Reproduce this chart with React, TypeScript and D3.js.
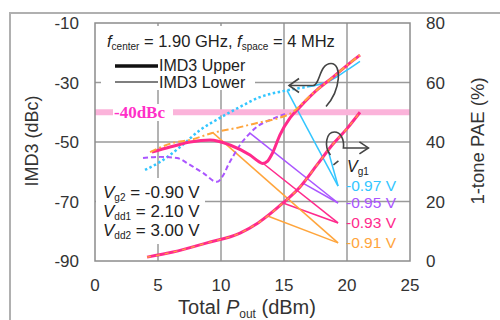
import React from "react";
import * as d3 from "d3";

// ---- data (x: Total Pout dBm) ----
const xTicks = [0, 5, 10, 15, 20, 25];
const yLeftTicks = [-10, -30, -50, -70, -90];
const yRightTicks = [80, 60, 40, 20, 0];

// IMD3 (dBc) curves
const imdPink: [number, number][] = [
  [4.52, -53.4], [5.95, -51.7], [7.54, -50.0], [9.13, -49.3], [10.71, -51.0],
  [12.3, -54.4], [13.0, -56.6], [13.3, -57.2], [13.7, -56.4], [14.1, -53.6], [14.68, -47.6],
  [15.48, -41.9], [16.27, -38.2], [17.62, -32.5], [18.89, -28.2], [20.24, -23.4], [21.03, -20.8],
];
const imdOrange: [number, number][] = [
  [4.37, -53.4], [6.19, -50.3], [7.54, -49.3], [9.29, -47.0], [11.51, -45.0],
  [12.86, -43.6], [14.29, -42.3], [15.71, -39.9], [17.06, -34.5], [18.89, -28.2],
  [20.24, -23.4], [21.03, -20.8],
];
const imdCyanDotted: [number, number][] = [
  [3.97, -59.4], [5.16, -56.7], [6.75, -51.7], [8.33, -46.0], [9.92, -41.9],
  [11.51, -38.2], [13.1, -34.9], [14.92, -32.9], [16.83, -31.5],
];
const imdCyanSolid: [number, number][] = [
  [16.83, -31.5], [18.65, -29.4], [19.84, -26.3], [21.03, -22.9],
];
const imdPurple: [number, number][] = [
  [3.81, -55.4], [5.16, -55.0], [6.51, -55.4], [7.54, -57.7], [8.57, -60.4],
  [9.68, -63.4], [10.2, -61.0], [10.6, -57.5], [11.0, -54.5], [11.51, -51.0], [12.3, -47.0],
  [12.94, -44.6], [13.89, -42.6], [15.08, -40.6],
];
// 1-tone PAE (%) curve
const pae: [number, number][] = [
  [4.13, 1.3], [6.19, 3.0], [8.89, 6.1], [11.51, 9.4], [12.94, 12.8],
  [14.92, 19.5], [16.27, 24.9], [17.62, 32.3], [18.89, 39.3], [20.0, 44.5], [21.03, 50.0],
];

const vg1Labels = ["-0.97 V", "-0.95 V", "-0.93 V", "-0.91 V"];
const vg1Colors = ["#33c6ff", "#aa55ff", "#ff2a8c", "#ffa53c"];
// leader lines: start x on IMD3 curve, start x on PAE curve, target value (left axis)
const leaderImdX = [15.24, 12.3, 13.33, 9.37];
const leaderPaeX = [18.5, 16.5, 14.92, 13.65];
const leaderTargetY = [-64.8, -70.5, -77.2, -83.9];
const leaderTargetX = 19.29;

const limitDbc = -40;

export default function App() {
  const x = d3.scaleLinear().domain([0, 25]).range([95, 410]);
  const yL = d3.scaleLinear().domain([-90, -10]).range([261, 23]);
  const yR = d3.scaleLinear().domain([0, 80]).range([261, 23]);

  const lineL = d3.line<[number, number]>().x(d => x(d[0])).y(d => yL(d[1])).curve(d3.curveMonotoneX);
  const lineR = d3.line<[number, number]>().x(d => x(d[0])).y(d => yR(d[1])).curve(d3.curveMonotoneX);

  const interp = (s: [number, number][], xv: number) => {
    for (let i = 0; i < s.length - 1; i++) {
      if (xv >= s[i][0] && xv <= s[i + 1][0]) {
        const t = (xv - s[i][0]) / (s[i + 1][0] - s[i][0]);
        return s[i][1] + t * (s[i + 1][1] - s[i][1]);
      }
    }
    return s[s.length - 1][1];
  };
  const imdSeries = [imdCyanDotted, imdPurple, imdPink, imdOrange];

  const font = "Liberation Sans, Arial, sans-serif";
  const gridColor = "#9a9a9a";
  const textColor = "#333";

  // arrow anchors
  const a1x = x(15.4), a1y = yL(-31.0);
  const a2x = x(21.7), a2y = yR(38.0);

  return (
    <svg width={500} height={320} style={{ position: "absolute", left: 0, top: 0 }} fontFamily={font}>
      <rect x={0} y={0} width={500} height={320} fill="#fff" />
      <rect x={10} y={13} width={510} height={330} fill="#fff" stroke="#b0b0b0" strokeWidth={2} />

      {/* grid */}
      {xTicks.slice(1, -1).map(t => (
        <line key={"gx" + t} x1={x(t)} x2={x(t)} y1={yL(-10)} y2={yL(-90)} stroke={gridColor} strokeWidth={1.5} />
      ))}
      {yLeftTicks.slice(1, -1).map(t => (
        <line key={"gy" + t} x1={x(0)} x2={x(25)} y1={yL(t)} y2={yL(t)} stroke={gridColor} strokeWidth={1.5} />
      ))}

      {/* -40 dBc band */}
      <line x1={x(0)} x2={x(25)} y1={yL(limitDbc)} y2={yL(limitDbc)} stroke="#fbb3da" strokeWidth={6} />

      {/* white boxes behind texts */}
      <rect x={101} y={26} width={180} height={26} fill="#fff" />
      <rect x={101} y={52} width={154} height={38} fill="#fff" />
      <rect x={96} y={178} width={109} height={66} fill="#fff" />
      <rect x={113} y={104} width={60} height={17} fill="#fff" />

      {/* frame */}
      <rect x={x(0)} y={yL(-10)} width={x(25) - x(0)} height={yL(-90) - yL(-10)} fill="none" stroke="#8c8c8c" strokeWidth={1.5} />

      {/* leader lines */}
      {vg1Labels.map((_, i) => {
        const tx = x(leaderTargetX), ty = yL(leaderTargetY[i]);
        const sx1 = x(leaderImdX[i]), sy1 = yL(interp(imdSeries[i], leaderImdX[i]));
        const sx2 = x(leaderPaeX[i]), sy2 = yR(interp(pae, leaderPaeX[i]));
        return (
          <g key={"ld" + i} stroke={vg1Colors[i]} strokeWidth={1.5} fill="none">
            <line x1={sx1} y1={sy1} x2={tx} y2={ty} />
            <line x1={sx2} y1={sy2} x2={tx} y2={ty} />
          </g>
        );
      })}

      {/* IMD3 curves */}
      <path d={lineL(imdCyanDotted) || ""} fill="none" stroke="#33c6ff" strokeWidth={2.5} strokeDasharray="2.5,2.5" />
      <path d={lineL(imdCyanSolid) || ""} fill="none" stroke="#33c6ff" strokeWidth={1.5} />
      <path d={lineL(imdPurple) || ""} fill="none" stroke="#aa55ff" strokeWidth={2} strokeDasharray="5,3" />
      <path d={lineL(imdPink) || ""} fill="none" stroke="#ff2a8c" strokeWidth={3} />
      <path d={lineL(imdOrange) || ""} fill="none" stroke="#ffa53c" strokeWidth={2} strokeDasharray="7,3,2,3" />

      {/* PAE curve */}
      <path d={lineR(pae) || ""} fill="none" stroke="#ff2a8c" strokeWidth={3} />
      <path d={lineR(pae) || ""} fill="none" stroke="#ffa53c" strokeWidth={1.2} strokeDasharray="4,5" />

      {/* curly arrows */}
      <g fill="none" stroke="#444" strokeWidth={1.6}>
        <path d={`M${a1x},${a1y} L${a1x + 24},${a1y} C${a1x + 31},${a1y} ${a1x + 30},${a1y - 22} ${a1x + 42},${a1y - 22} C${a1x + 53},${a1y - 22} ${a1x + 52},${a1y + 4} ${a1x + 37},${a1y + 21}`} />
        <path d={`M${a1x + 10},${a1y - 7} L${a1x},${a1y} L${a1x + 10},${a1y + 7}`} />
        <path d={`M${a2x},${a2y} L${a2x - 25},${a2y} C${a2x - 24},${a2y - 9} ${a2x - 28},${a2y - 16} ${a2x - 34},${a2y - 16} C${a2x - 42},${a2y - 16} ${a2x - 45},${a2y - 2} ${a2x - 38},${a2y + 7}`} />
        <path d={`M${a2x - 35},${a2y + 17} L${a2x - 30},${a2y + 13}`} />
        <path d={`M${a2x - 9},${a2y - 6} L${a2x},${a2y} L${a2x - 9},${a2y + 6}`} />
      </g>

      {/* title & legend */}
      <text x={107} y={47} fontSize={16.5} fill="#222">
        <tspan fontStyle="italic">f</tspan>
        <tspan fontSize={10} dy={3}>center</tspan>
        <tspan dy={-3}> = 1.90 GHz, </tspan>
        <tspan fontStyle="italic">f</tspan>
        <tspan fontSize={10} dy={3}>space</tspan>
        <tspan dy={-3}> = 4 MHz</tspan>
      </text>
      <line x1={115} x2={158} y1={66} y2={66} stroke="#111" strokeWidth={3.5} />
      <text x={159} y={71} fontSize={16} fill="#222">IMD3 Upper</text>
      <line x1={115} x2={158} y1={82} y2={82} stroke="#555" strokeWidth={1.5} />
      <text x={159} y={87.5} fontSize={16} fill="#222">IMD3 Lower</text>

      <text x={114} y={118} fontSize={17} fontWeight="bold" fill="#ff30c8" fontFamily="Liberation Serif, Times New Roman, serif">-40dBc</text>

      {/* bias block */}
      {[["g2", "-0.90 V"], ["dd1", "2.10 V"], ["dd2", "3.00 V"]].map((r, i) => (
        <text key={"b" + i} x={103} y={198 + i * 19} fontSize={17} fill="#222">
          <tspan fontStyle="italic">V</tspan>
          <tspan fontSize={10} dy={3}>{r[0]}</tspan>
          <tspan dy={-3}> = {r[1]}</tspan>
        </text>
      ))}

      {/* Vg1 labels */}
      <text x={347} y={172} fontSize={16} fill="#222">
        <tspan fontStyle="italic">V</tspan>
        <tspan fontSize={10} dy={3}>g1</tspan>
      </text>
      {vg1Labels.map((l, i) => (
        <text key={"vl" + i} x={346} y={yL(leaderTargetY[i]) + 5} fontSize={15.5} fill={vg1Colors[i]}>{l}</text>
      ))}

      {/* axis tick labels */}
      {yLeftTicks.map(t => (
        <text key={"yl" + t} x={79} y={yL(t) + 6} fontSize={17} textAnchor="end" fill={textColor}>{t}</text>
      ))}
      {yRightTicks.map(t => (
        <text key={"yr" + t} x={426} y={yR(t) + 6} fontSize={17} fill={textColor}>{t}</text>
      ))}
      {xTicks.map(t => (
        <text key={"xt" + t} x={x(t)} y={291} fontSize={17} textAnchor="middle" fill={textColor}>{t}</text>
      ))}

      {/* axis titles */}
      <text transform="translate(38,141) rotate(-90)" fontSize={18} textAnchor="middle" fill={textColor}>IMD3 (dBc)</text>
      <text transform="translate(484,141) rotate(-90)" fontSize={18.5} textAnchor="middle" fill={textColor}>1-tone PAE (%)</text>
      <text x={247} y={314} fontSize={20} textAnchor="middle" fill={textColor}>
        <tspan>Total </tspan>
        <tspan fontStyle="italic">P</tspan>
        <tspan fontSize={12} dy={4}>out</tspan>
        <tspan dy={-4}> (dBm)</tspan>
      </text>
    </svg>
  );
}
